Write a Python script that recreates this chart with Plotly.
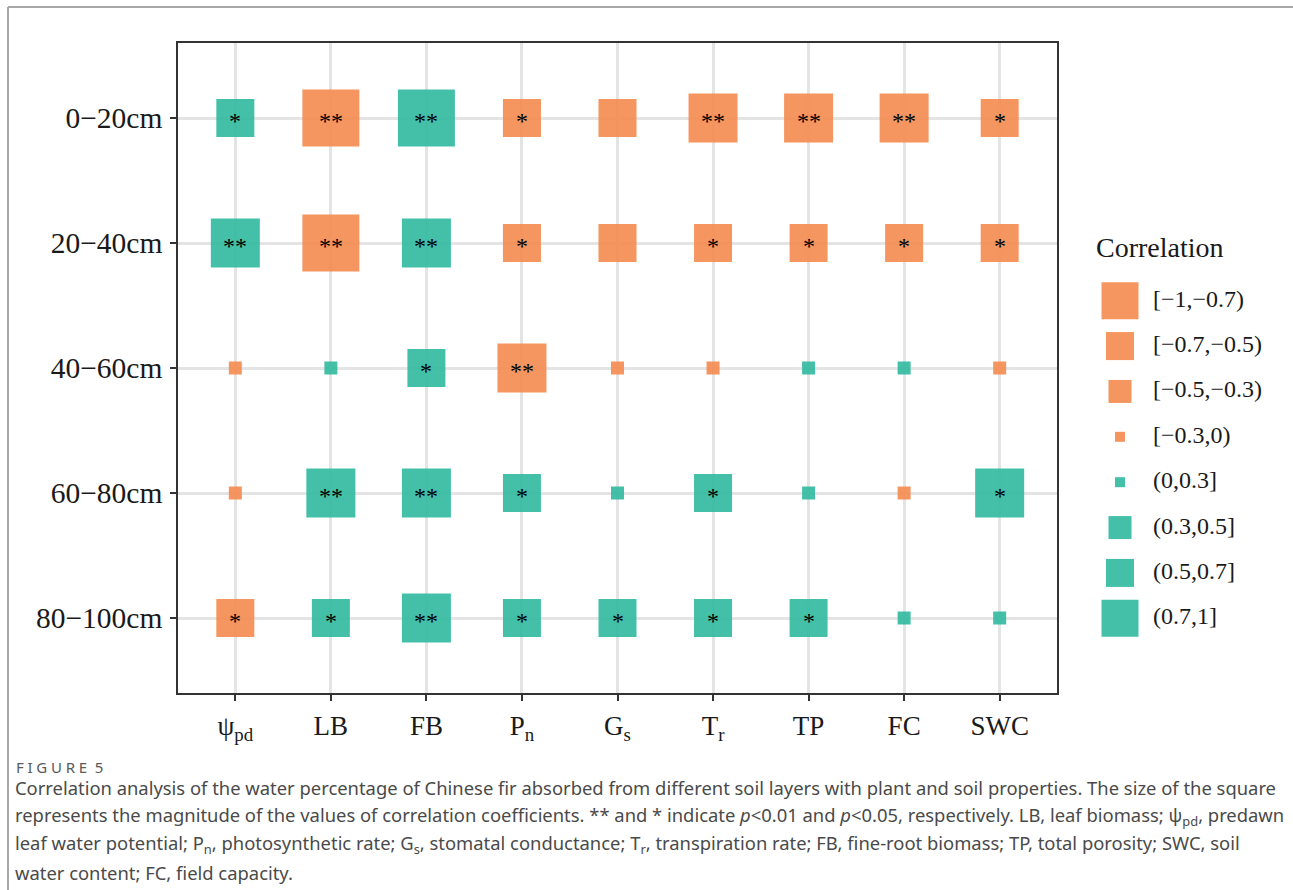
import plotly.graph_objects as go

# Soil layers (rows) and plant / soil properties (columns)
depths = ["0−20cm", "20−40cm", "40−60cm", "60−80cm", "80−100cm"]
variables = ["ψpd", "LB", "FB", "Pn", "Gs", "Tr", "TP", "FC", "SWC"]
variable_ticks = ["ψ<sub>pd</sub>", "LB", "FB", "P<sub>n</sub>", "G<sub>s</sub>",
                  "T<sub>r</sub>", "TP", "FC", "SWC"]

# Correlation coefficients, one list per soil layer (order follows `variables`)
r_0_20 = [0.42, -0.78, 0.76, -0.41, -0.38, -0.62, -0.64, -0.61, -0.43]
r_20_40 = [0.63, -0.79, 0.61, -0.42, -0.36, -0.44, -0.45, -0.43, -0.44]
r_40_60 = [-0.12, 0.08, 0.45, -0.66, -0.15, -0.18, 0.10, 0.14, -0.20]
r_60_80 = [-0.14, 0.62, 0.64, 0.43, 0.11, 0.45, 0.16, -0.09, 0.60]
r_80_100 = [-0.44, 0.41, 0.65, 0.44, 0.42, 0.45, 0.40, 0.21, 0.18]

# Significance marks (** p<0.01, * p<0.05)
s_0_20 = ["*", "**", "**", "*", "", "**", "**", "**", "*"]
s_20_40 = ["**", "**", "**", "*", "", "*", "*", "*", "*"]
s_40_60 = ["", "", "*", "**", "", "", "", "", ""]
s_60_80 = ["", "**", "**", "*", "", "*", "", "", "*"]
s_80_100 = ["*", "*", "**", "*", "*", "*", "*", "", ""]

class_labels = ["[−1,−0.7)", "[−0.7,−0.5)", "[−0.5,−0.3)", "[−0.3,0)",
                "(0,0.3]", "(0.3,0.5]", "(0.5,0.7]", "(0.7,1]"]

r_rows = [r_0_20, r_20_40, r_40_60, r_60_80, r_80_100]
s_rows = [s_0_20, s_20_40, s_40_60, s_60_80, s_80_100]

# Styling of the size/colour scale
PLOT_SIZE = [57, 49, 38, 13, 13, 38, 49, 57]
KEY_SIZE = [37, 28, 23, 10, 10, 23, 28, 37]
NEG_COLOR = "#F48A4E"
POS_COLOR = "#30B9A0"
SERIF = "Liberation Serif, Times New Roman, serif"
SANS = "Noto Sans, Open Sans, sans-serif"

W, H = 1293, 890


def corr_class(r):
    """Index into class_labels: negatives are [a,b), positives are (a,b]."""
    if r < 0:
        if r < -0.7:
            return 0
        if r < -0.5:
            return 1
        if r < -0.3:
            return 2
        return 3
    if r <= 0.3:
        return 4
    if r <= 0.5:
        return 5
    if r <= 0.7:
        return 6
    return 7


def px_x(p):
    return p / W


def px_y(p):
    return 1 - p / H


xs, ys, sizes, colors, stars = [], [], [], [], []
for depth, rr, ss in zip(depths, r_rows, s_rows):
    for var, r, s in zip(variables, rr, ss):
        k = corr_class(r)
        xs.append(var)
        ys.append(depth)
        sizes.append(PLOT_SIZE[k])
        colors.append(NEG_COLOR if k < 4 else POS_COLOR)
        stars.append(s)

fig = go.Figure()

fig.add_trace(go.Scatter(
    x=xs, y=ys, mode="markers",
    marker=dict(symbol="square", size=sizes, color=colors, opacity=0.9,
                line=dict(width=0)),
    hoverinfo="skip", showlegend=False,
))

# Size / colour key drawn on its own small axes
key_idx = list(range(len(class_labels)))
fig.add_trace(go.Scatter(
    x=[1.5] * len(class_labels), y=key_idx, mode="markers",
    marker=dict(symbol="square", size=KEY_SIZE,
                color=[NEG_COLOR if k < 4 else POS_COLOR for k in key_idx],
                opacity=0.9, line=dict(width=0)),
    xaxis="x2", yaxis="y2", hoverinfo="skip", showlegend=False,
))
fig.add_trace(go.Scatter(
    x=[3.15] * len(class_labels), y=key_idx, mode="text", text=class_labels,
    textposition="middle right", marker=dict(size=1),
    textfont=dict(family=SERIF, size=24, color="#1a1a1a"),
    xaxis="x2", yaxis="y2", hoverinfo="skip", showlegend=False,
))

# Panel geometry (pixels)
L, R, T, B = 178, 1057, 43, 693
key_top, key_bot = 278, 641

axis_common = dict(
    showline=True, mirror=True, linecolor="#333333", linewidth=1.5,
    ticks="outside", ticklen=6, tickwidth=1.5, tickcolor="#333333",
    showgrid=True, gridcolor="#E4E4E4", gridwidth=2.6, zeroline=False,
)

fig.update_layout(
    width=W, height=H,
    margin=dict(l=0, r=0, t=0, b=0),
    paper_bgcolor="white", plot_bgcolor="white",
    xaxis=dict(
        domain=[px_x(L), px_x(R)], type="category",
        categoryorder="array", categoryarray=variables,
        tickmode="array", tickvals=variables, ticktext=variable_ticks,
        range=[-0.6, len(variables) - 0.4],
        tickfont=dict(family=SERIF, size=27, color="#1a1a1a"),
        ticklabelstandoff=2,
        **axis_common,
    ),
    yaxis=dict(
        domain=[px_y(B), px_y(T)], type="category",
        categoryorder="array", categoryarray=depths,
        range=[len(depths) - 0.4, -0.6],
        tickfont=dict(family=SERIF, size=29.5, color="#1a1a1a"),
        ticklabelstandoff=2,
        **axis_common,
    ),
    xaxis2=dict(domain=[px_x(1090), px_x(1290)], range=[0, 10], visible=False,
                anchor="y2", fixedrange=True),
    yaxis2=dict(domain=[px_y(key_bot), px_y(key_top)], range=[7.5, -0.5],
                visible=False, anchor="x2", fixedrange=True),
    font=dict(family=SERIF),
)

annotations = []

# Significance asterisks centred on each square
for x, y, s in zip(xs, ys, stars):
    if s:
        annotations.append(dict(
            text=s, x=x, y=y, xref="x", yref="y", showarrow=False,
            xanchor="center", yanchor="middle", yshift=-2.5,
            font=dict(family=SERIF, size=24, color="black"),
        ))

annotations += [
    dict(text="Correlation", x=px_x(1094), y=px_y(248), xref="paper", yref="paper",
         xanchor="left", yanchor="middle", showarrow=False,
         font=dict(family=SERIF, size=28, color="#1a1a1a")),
    dict(text="F\u2005I\u2005G\u2005U\u2005R\u2005E\u2005 5", x=px_x(14), y=px_y(767),
         xref="paper", yref="paper",
         xanchor="left", yanchor="middle", showarrow=False,
         font=dict(family=SANS, size=15, color="#5a5a5a")),
]

caption_lines = [
    "Correlation analysis of the water percentage of Chinese fir absorbed from different soil layers with plant and soil properties. The size of the square",
    "represents the magnitude of the values of correlation coefficients. ** and * indicate <i>p</i>&lt;0.01 and <i>p</i>&lt;0.05, respectively. LB, leaf biomass; ψ<sub>pd</sub>, predawn",
    "leaf water potential; P<sub>n</sub>, photosynthetic rate; G<sub>s</sub>, stomatal conductance; T<sub>r</sub>, transpiration rate; FB, fine-root biomass; TP, total porosity; SWC, soil",
    "water content; FC, field capacity.",
]
caption_y = [787, 815.5, 844, 872.5]
for line, yy in zip(caption_lines, caption_y):
    annotations.append(dict(
        text=line, x=px_x(13), y=px_y(yy), xref="paper", yref="paper",
        xanchor="left", yanchor="middle", showarrow=False,
        font=dict(family=SANS, size=18.4, color="#4a4a4a"),
    ))
fig.update_layout(annotations=annotations)

# Thin page frame along the top and left edges
fig.add_shape(type="line", xref="paper", yref="paper",
              x0=px_x(8), x1=1, y0=px_y(7), y1=px_y(7),
              line=dict(color="#A8A8A8", width=2))
fig.add_shape(type="line", xref="paper", yref="paper",
              x0=px_x(8), x1=px_x(8), y0=px_y(7), y1=0,
              line=dict(color="#A8A8A8", width=2))

fig.write_html("out.html")
